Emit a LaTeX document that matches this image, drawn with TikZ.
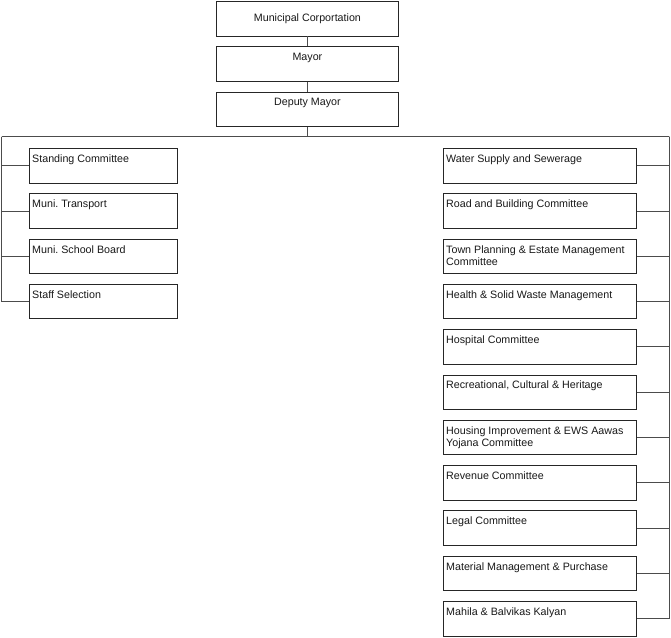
\documentclass[tikz,border=0pt]{standalone}
\usepackage{fontspec}
\setmainfont{Liberation Sans}
\frenchspacing
\begin{document}
\begin{tikzpicture}[x=1pt,y=-1pt,
  every node/.style={font=\fontsize{10.7}{12}\selectfont, text=black!90},
  boxshape/.style={draw=black!85, line width=0.85pt, minimum height=34.5pt, inner sep=0pt, anchor=north west, fill=white},
  topbox/.style={boxshape, minimum width=182pt},
  leftbox/.style={boxshape, minimum width=148pt},
  rightbox/.style={boxshape, minimum width=193pt},
  tl/.style={label={[anchor=north west, inner sep=0pt, xshift=3pt, yshift=-6.5pt, align=left]north west:#1}},
  tc/.style={label={[anchor=north, inner sep=0pt, yshift=-6.5pt]north:#1}},
  wire/.style={draw=black!70, line width=0.85pt}
]
\useasboundingbox (0,0) rectangle (671,637);

% top chain
\node[topbox] (mc) at (216,1) {Municipal Corportation};
\node[topbox, tc=Mayor] (my) at (216,46.3) {};
\node[topbox, tc={Deputy Mayor}] (dm) at (216,91.6) {};

% left column
\node[leftbox, tl={Standing Committee}] (s1) at (29,148) {};
\node[leftbox, tl={Muni. Transport}] (s2) at (29,193.3) {};
\node[leftbox, tl={Muni. School Board}] (s3) at (29,238.6) {};
\node[leftbox, tl={Staff Selection}] (s4) at (29,283.9) {};

% right column
\node[rightbox, tl={Water Supply and Sewerage}] (r1) at (443,148) {};
\node[rightbox, tl={Road and Building Committee}] (r2) at (443,193.3) {};
\node[rightbox, tl={Town Planning \& Estate Management\\Committee}] (r3) at (443,238.6) {};
\node[rightbox, tl={Health \& Solid Waste Management}] (r4) at (443,283.9) {};
\node[rightbox, tl={Hospital Committee}] (r5) at (443,329.2) {};
\node[rightbox, tl={Recreational, Cultural \& Heritage}] (r6) at (443,374.5) {};
\node[rightbox, tl={Housing Improvement \& EWS Aawas\\Yojana Committee}] (r7) at (443,419.8) {};
\node[rightbox, tl={Revenue Committee}] (r8) at (443,465.1) {};
\node[rightbox, tl={Legal Committee}] (r9) at (443,510.4) {};
\node[rightbox, tl={Material Management \& Purchase}] (r10) at (443,555.7) {};
\node[rightbox, tl={Mahila \& Balvikas Kalyan}] (r11) at (443,601) {};

% connectors
\coordinate (busL) at (1.5,136.5);
\coordinate (busR) at (669,136.5);
\draw[wire] (mc) -- (my);
\draw[wire] (my) -- (dm);
\draw[wire] (dm.south) -- (dm.south |- busL);
\draw[wire] (busL) -- (busR);
\foreach \n in {s1,s2,s3,s4} \draw[wire] (busL) |- (\n.west);
\foreach \n in {r1,r2,r3,r4,r5,r6,r7,r8,r9,r10,r11} \draw[wire] (busR) |- (\n.east);
\end{tikzpicture}
\end{document}
